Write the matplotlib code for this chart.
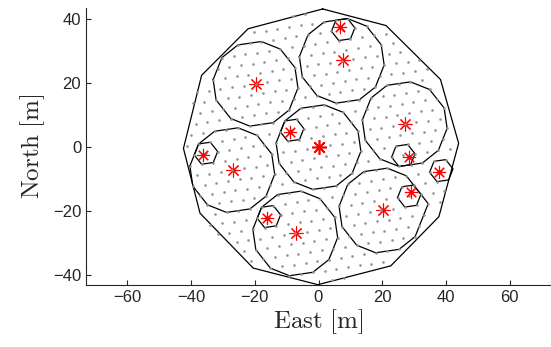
import numpy as np
import matplotlib.pyplot as plt

plt.rcParams['font.family'] = ['Liberation Sans', 'DejaVu Sans']
plt.rcParams['mathtext.fontset'] = 'cm'

# boundary of the area
outer_x = [1.3, 21.2, 38.3, 44.0, 37.8, 22.7, -0.2, -20.5, -37.2, -42.4, -36.7, -22.1]
outer_y = [43.3, 38.1, 21.2, 1.2, -21.8, -37.2, -43.1, -37.9, -20.7, -0.4, 22.5, 37.1]

# triangular grid of candidate positions
grid_spacing = 3.71   # m
grid_angle = 8.3      # deg
grid_radius = 42.0    # m

# cluster centres
cluster_x = [0.0, 27.3, 7.6, -19.5, -26.8, -7.0, 20.4]
cluster_y = [0.0, 7.2, 27.2, 19.9, -7.2, -27.0, -19.7]
cluster_radius = 14.4

# users
user_x = [6.8, -9.1, -36.2, 28.4, 37.8, 29.0, -16.3]
user_y = [37.8, 4.7, -2.5, -3.2, -7.9, -14.0, -22.3]


def convex_hull(pts):
    # monotone chain
    pts = sorted(map(tuple, pts))
    if len(pts) < 3:
        return pts

    def cross(o, a, b):
        return (a[0] - o[0]) * (b[1] - o[1]) - (a[1] - o[1]) * (b[0] - o[0])

    lower, upper = [], []
    for p in pts:
        while len(lower) >= 2 and cross(lower[-2], lower[-1], p) <= 0:
            lower.pop()
        lower.append(p)
    for p in reversed(pts):
        while len(upper) >= 2 and cross(upper[-2], upper[-1], p) <= 0:
            upper.pop()
        upper.append(p)
    return lower[:-1] + upper[:-1]


def closed(poly):
    poly = np.array(poly)
    return np.vstack([poly, poly[:1]])


# build the grid
t = np.deg2rad(grid_angle)
a1 = grid_spacing * np.array([np.cos(t), np.sin(t)])
a2 = grid_spacing * np.array([np.cos(t + np.pi / 3), np.sin(t + np.pi / 3)])
n = int(grid_radius / grid_spacing) + 6
ii, jj = np.meshgrid(np.arange(-n, n + 1), np.arange(-n, n + 1))
full_grid = ii.reshape(-1, 1) * a1 + jj.reshape(-1, 1) * a2
grid = full_grid[np.hypot(full_grid[:, 0], full_grid[:, 1]) <= grid_radius]

fig = plt.figure(figsize=(5.51, 3.47), dpi=100)
ax = fig.add_axes([86 / 551, 62 / 347, 465 / 551, 277 / 347])

# area boundary
ob = closed(np.column_stack([outer_x, outer_y]))
ax.plot(ob[:, 0], ob[:, 1], color='k', lw=0.9, zorder=2)

# cluster hulls
for cx, cy in zip(cluster_x, cluster_y):
    d = np.hypot(grid[:, 0] - cx, grid[:, 1] - cy)
    hull = closed(convex_hull(grid[d <= cluster_radius]))
    ax.plot(hull[:, 0], hull[:, 1], color='k', lw=0.9, zorder=2)

# small hexagons round each user (neighbours of its nearest grid point)
for ux, uy in zip(user_x, user_y):
    q = full_grid[np.argmin(np.hypot(full_grid[:, 0] - ux, full_grid[:, 1] - uy))]
    d = np.hypot(full_grid[:, 0] - q[0], full_grid[:, 1] - q[1])
    nb = full_grid[(d > 0.5 * grid_spacing) & (d < 1.3 * grid_spacing)]
    hull = closed(convex_hull(nb))
    ax.plot(hull[:, 0], hull[:, 1], color='k', lw=0.9, zorder=2)

# cluster centres
ax.plot(cluster_x[1:], cluster_y[1:], linestyle='none', marker=(8, 2, 0),
        ms=10, mew=0.8, color='red', zorder=3)
ax.plot(cluster_x[:1], cluster_y[:1], linestyle='none', marker=(8, 2, 0),
        ms=10.5, mew=1.2, color='red', zorder=5)
ax.plot(cluster_x[:1], cluster_y[:1], linestyle='none', marker='o',
        ms=3, mew=0, color='red', zorder=5)

# grid points
ax.plot(grid[:, 0], grid[:, 1], linestyle='none', marker='o', ms=1.9,
        mew=0, color=(0.58, 0.58, 0.58), zorder=4)

# users
ax.plot(user_x, user_y, linestyle='none', marker=(8, 2, 0),
        ms=9.5, mew=0.8, color='red', zorder=5)
ax.plot(user_x, user_y, linestyle='none', marker='o',
        ms=3, mew=0, color='red', zorder=5)

ax.set_xlim(-73, 73)
ax.set_ylim(-43.2, 43.6)
ax.set_xticks([-60, -40, -20, 0, 20, 40, 60])
ax.set_yticks([-40, -20, 0, 20, 40])
for s in ['top', 'right']:
    ax.spines[s].set_visible(False)
for s in ['left', 'bottom']:
    ax.spines[s].set_color((0.15, 0.15, 0.15))
    ax.spines[s].set_linewidth(0.8)
ax.tick_params(direction='in', length=3.5, width=0.8, labelsize=12,
               colors=(0.15, 0.15, 0.15))
ax.set_xlabel(r'$\mathrm{East\ [m]}$', fontsize=18, color=(0.15, 0.15, 0.15), labelpad=2)
ax.set_ylabel(r'$\mathrm{North\ [m]}$', fontsize=18, color=(0.15, 0.15, 0.15), labelpad=4)

fig.savefig('out.png', dpi=100)
